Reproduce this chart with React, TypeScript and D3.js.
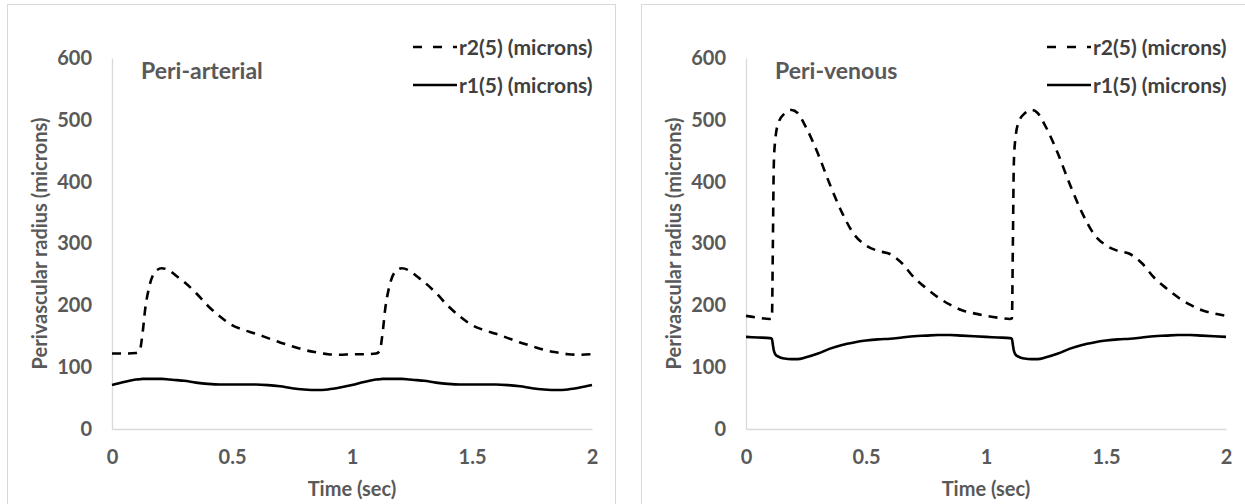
import React, { useEffect, useRef } from 'react'
import * as d3 from 'd3'

const yTicks = [0, 100, 200, 300, 400, 500, 600]
const xTicks = [0, 0.5, 1, 1.5, 2]
const seriesNames = ['r2(5) (microns)', 'r1(5) (microns)']
const panelTitles = ['Peri-arterial', 'Peri-venous']

// peri-arterial, time in sec, radius in microns
const arterialTime = [
  0, 0.05, 0.1, 0.115, 0.128, 0.138, 0.154, 0.179, 0.207, 0.24, 0.27, 0.3, 0.35, 0.4, 0.45, 0.5, 0.55, 0.6, 0.65, 0.7, 0.75, 0.8, 0.85, 0.9, 0.95,
  1.0, 1.05, 1.1, 1.115, 1.128, 1.138, 1.154, 1.179, 1.207, 1.24, 1.27, 1.3, 1.35, 1.4, 1.45, 1.5, 1.55, 1.6, 1.65, 1.7, 1.75, 1.8, 1.85, 1.9, 1.95,
  2.0,
]
const arterialR2 = [
  122, 122, 123, 126, 157, 193, 228, 254, 260, 256, 247, 238, 220, 199, 182, 168, 160, 154, 147, 140, 134, 128, 124, 121, 120,
  121, 121, 122, 126, 157, 193, 228, 254, 260, 256, 247, 238, 220, 199, 182, 168, 160, 154, 147, 140, 134, 128, 124, 121, 120,
  121,
]
const arterialR1 = [
  71, 76, 80, 80.5, 81, 81, 81, 81, 81, 80, 79, 78, 75, 73, 72, 72, 72, 72, 71, 69, 66, 64, 63, 64, 67,
  71, 76, 80, 80.5, 81, 81, 81, 81, 81, 80, 79, 78, 75, 73, 72, 72, 72, 72, 71, 69, 66, 64, 63, 64, 67,
  71,
]

// peri-venous
const venousTime = [
  0, 0.05, 0.1, 0.108, 0.112, 0.116, 0.122, 0.135, 0.16, 0.19, 0.215, 0.25, 0.3, 0.35, 0.4, 0.45, 0.5, 0.55, 0.6, 0.65, 0.7, 0.75, 0.8, 0.85, 0.9, 0.95,
  1.0, 1.05, 1.1, 1.108, 1.112, 1.116, 1.122, 1.135, 1.16, 1.19, 1.215, 1.25, 1.3, 1.35, 1.4, 1.45, 1.5, 1.55, 1.6, 1.65, 1.7, 1.75, 1.8, 1.85, 1.9, 1.95,
  2.0,
]
const venousR2 = [
  183, 180, 178, 179, 300, 430, 468, 495, 510, 516, 511, 488, 445, 395, 350, 315, 297, 288, 283, 268, 245, 228, 213, 201, 192, 187,
  183, 180, 178, 179, 300, 430, 468, 495, 510, 516, 511, 488, 445, 395, 350, 315, 297, 288, 283, 268, 245, 228, 213, 201, 192, 187,
  183,
]
const venousR1 = [
  149, 148, 147, 146, 136, 127, 121, 117, 114, 113, 113, 116, 122, 130, 136, 140, 143, 145, 146, 148, 150, 151, 152, 152, 151, 150,
  149, 148, 147, 146, 136, 127, 121, 117, 114, 113, 113, 116, 122, 130, 136, 140, 143, 145, 146, 148, 150, 151, 152, 152, 151, 150,
  149,
]

const App = () => {
  const svgRef = useRef<SVGSVGElement>(null)

  useEffect(() => {
    const width = 1245
    const height = 504
    const font = 'Lato, "Open Sans", sans-serif'
    const grey = '#595959'

    const svg = d3.select(svgRef.current)
      .attr('width', width)
      .attr('height', height)
      .attr('viewBox', [0, 0, width, height].join(' '))
    svg.selectAll('*').remove()

    const panels = [
      { title: panelTitles[0], time: arterialTime, r2: arterialR2, r1: arterialR1, dx: 0 },
      { title: panelTitles[1], time: venousTime, r2: venousR2, r1: venousR1, dx: 634 },
    ]

    panels.forEach(p => {
      const g = svg.append('g')

      // panel frame
      g.append('rect')
        .attr('x', 7.5 + p.dx).attr('y', 4.5)
        .attr('width', 608).attr('height', 520)
        .attr('fill', '#fff').attr('stroke', '#d9d9d9')

      const x = d3.scaleLinear([0, 2], [112 + p.dx, 592 + p.dx])
      const y = d3.scaleLinear([0, 600], [429, 58])

      const styleAxis = (a: any) => {
        a.attr('font-family', font).attr('font-size', 20).attr('font-weight', 700)
        a.select('.domain').attr('stroke', '#d9d9d9').attr('stroke-width', 1.3)
        a.selectAll('.tick text').attr('fill', grey)
        a.selectAll('.tick line').remove()
      }

      g.append('g')
        .attr('transform', `translate(${x(0)},0)`)
        .call(d3.axisLeft(y).tickValues(yTicks).tickSize(0).tickPadding(20).tickFormat(d => String(d)))
        .call(styleAxis)

      g.append('g')
        .attr('transform', `translate(0,${y(0)})`)
        .call(d3.axisBottom(x).tickValues(xTicks).tickSize(0).tickPadding(21).tickFormat(d => String(d)))
        .call(styleAxis)

      // axis titles
      g.append('text')
        .attr('transform', `translate(${39 + p.dx},${(y(0) + y(600)) / 2}) rotate(-90)`)
        .attr('text-anchor', 'middle').attr('dominant-baseline', 'central')
        .attr('font-family', font).attr('font-size', 20).attr('font-weight', 700).attr('fill', grey)
        .text('Perivascular radius (microns)')

      g.append('text')
        .attr('x', x(1)).attr('y', 488)
        .attr('text-anchor', 'middle').attr('dominant-baseline', 'central')
        .attr('font-family', font).attr('font-size', 20).attr('font-weight', 700).attr('fill', grey)
        .text('Time (sec)')

      g.append('text')
        .attr('x', 141 + p.dx).attr('y', 70)
        .attr('dominant-baseline', 'central')
        .attr('font-family', font).attr('font-size', 23).attr('font-weight', 700).attr('fill', grey)
        .text(p.title)

      const line = d3.line<number>()
        .x((_, i) => x(p.time[i]))
        .y(d => y(d))
        .curve(d3.curveMonotoneX)

      g.append('path')
        .attr('fill', 'none').attr('stroke', '#000').attr('stroke-width', 2.6)
        .attr('d', line(p.r1))

      g.append('path')
        .attr('fill', 'none').attr('stroke', '#000').attr('stroke-width', 2.6)
        .attr('stroke-dasharray', '9,7')
        .attr('d', line(p.r2))

      // legend
      const legend = g.append('g').attr('transform', `translate(${413 + p.dx},0)`)
      seriesNames.forEach((name, i) => {
        const ly = i === 0 ? 46 : 84
        legend.append('line')
          .attr('x1', 0).attr('x2', 44).attr('y1', ly + 1).attr('y2', ly + 1)
          .attr('stroke', '#000').attr('stroke-width', 2.6)
          .attr('stroke-dasharray', i === 0 ? '9,11' : null)
        legend.append('text')
          .attr('x', 46).attr('y', ly)
          .attr('dominant-baseline', 'central')
          .attr('font-family', font).attr('font-size', 21).attr('font-weight', 700).attr('fill', '#404040')
          .text(name)
      })
    })
  }, [])

  return (
    <svg ref={svgRef} style={{ position: 'absolute', left: 0, top: 0, background: '#fff' }} />
  )
}

export default App
